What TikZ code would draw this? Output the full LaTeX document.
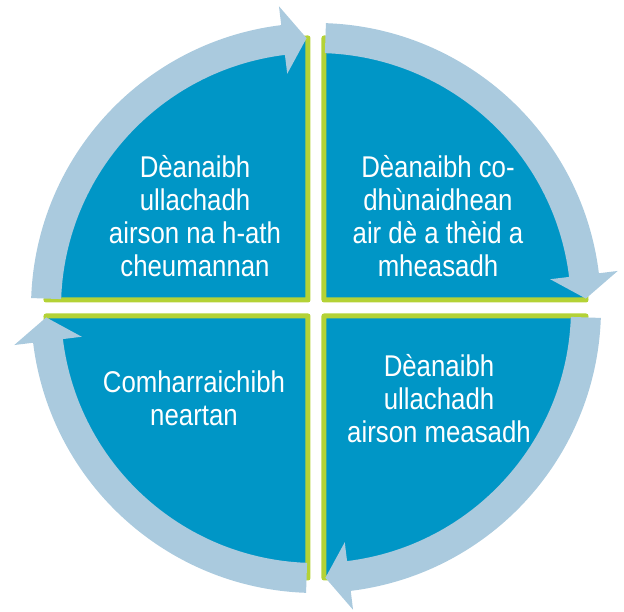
\documentclass[tikz,border=0pt]{standalone}
\usepackage{fontspec}
\setmainfont[FakeStretch=0.86]{Liberation Sans}
\definecolor{quadblue}{RGB}{0,150,198}
\definecolor{rimgreen}{RGB}{180,210,54}
\definecolor{arrowblue}{RGB}{170,202,222}

\begin{document}
\begin{tikzpicture}[
    x=1pt, y=1pt,
    quadrant/.style={fill=quadblue, draw=rimgreen, line width=5pt, line join=round},
    cyclearrow/.style={fill=arrowblue},
    steptext/.style={text=white, align=center, font=\fontsize{30}{33}\selectfont}
    ]
    \useasboundingbox (-316,-304) rectangle (308,308);

    % four quarter disks
    \foreach \cx/\cy/\a in {8/8/0, -8/8/90, -8/-8/180, 8/-8/270}
        \draw[quadrant] (\cx,\cy) -- ++(\a:262) arc[start angle=\a, end angle=\a+90, radius=262] -- cycle;

    % circular arrows, clockwise
    \foreach \a in {180,90,0,-90}
        \fill[cyclearrow] ({\a-2}:285) arc[start angle=\a-2, end angle=\a-83, radius=285]
            -- ({\a-83}:304) -- ({\a-88}:270) -- ({\a-83}:236) -- ({\a-83}:255)
            arc[start angle=\a-83, end angle=\a-2, radius=255] -- cycle;

    \node[steptext] (plan) at (-121,91.5) {Dèanaibh\\ullachadh\\airson na h-ath\\cheumannan};
    \node[steptext] (decide) at (122,91.5) {Dèanaibh co-\\dhùnaidhean\\air dè a thèid a\\mheasadh};
    \node[steptext] (assess) at (123,-90.5) {Dèanaibh\\ullachadh\\airson measadh};
    \node[steptext] (strength) at (-122,-90) {Comharraichibh\\neartan};

\end{tikzpicture}
\end{document}
